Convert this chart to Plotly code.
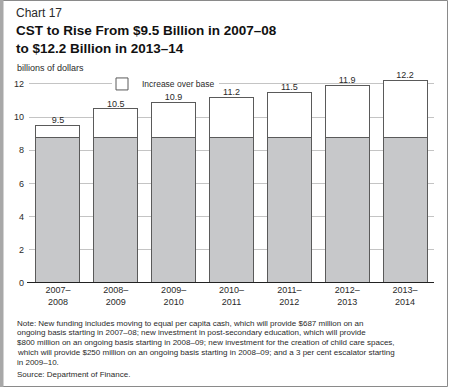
import plotly.graph_objects as go

# ---- data ----
categories = ["2007–<br>2008", "2008–<br>2009", "2009–<br>2010", "2010–<br>2011",
              "2011–<br>2012", "2012–<br>2013", "2013–<br>2014"]
totals = [9.5, 10.5, 10.9, 11.2, 11.5, 11.9, 12.2]
base_value = 8.8
base = [base_value] * len(totals)
increase = [round(t - base_value, 2) for t in totals]
total_labels = ["9.5", "10.5", "10.9", "11.2", "11.5", "11.9", "12.2"]
y_ticks = [0, 2, 4, 6, 8, 10, 12]
y_max = 12.6

W, H = 450, 388
ML, MR, MT, MB = 29, 16, 74, 105
PW, PH = W - ML - MR, H - MT - MB

def px(x):
    return (x - ML) / PW

def py(y):
    return (H - MB - y) / PH

FONT = "Liberation Sans, Arial, sans-serif"
TXT = "#2a2a2a"

fig = go.Figure()
fig.add_trace(go.Bar(
    x=categories, y=base, name="Base", showlegend=False,
    marker=dict(color="#c7c8ca", line=dict(color="#5a5a5a", width=1)),
    hoverinfo="skip",
))
fig.add_trace(go.Bar(
    x=categories, y=increase, name="Increase over base",
    marker=dict(color="#ffffff", line=dict(color="#5a5a5a", width=1)),
    hoverinfo="skip",
))
fig.add_trace(go.Scatter(
    x=categories, y=totals, mode="text", text=total_labels,
    textposition="top center", showlegend=False, cliponaxis=False,
    textfont=dict(family=FONT, size=9, color=TXT), hoverinfo="skip",
))

note_lines = [
    "Note: New funding includes moving to equal per capita cash, which will provide $687 million on an",
    "ongoing basis starting in 2007–08; new investment in post-secondary education, which will provide",
    "$800 million on an ongoing basis starting in 2008–09; new investment for the creation of child care spaces,",
    "which will provide $250 million on an ongoing basis starting in 2008–09; and a 3 per cent escalator starting",
    "in 2009–10.",
]

annotations = [
    dict(text="Chart 17", x=px(14), y=py(13), xanchor="left", yanchor="middle",
         font=dict(family=FONT, size=12, color=TXT)),
    dict(text="<b>CST to Rise From $9.5 Billion in 2007–08</b>", x=px(14), y=py(31),
         xanchor="left", yanchor="middle", font=dict(family=FONT, size=13.5, color="#111")),
    dict(text="<b>to $12.2 Billion in 2013–14</b>", x=px(14), y=py(48),
         xanchor="left", yanchor="middle", font=dict(family=FONT, size=13.5, color="#111")),
    dict(text="billions of dollars", x=px(15), y=py(68), xanchor="left", yanchor="middle",
         font=dict(family=FONT, size=9, color=TXT)),
]
for i, line in enumerate(note_lines):
    annotations.append(dict(text=line, x=px(15), y=py(323 + 9.8 * i), xanchor="left",
                            yanchor="middle", font=dict(family=FONT, size=8, color=TXT)))
annotations.append(dict(text="Source: Department of Finance.", x=px(15), y=py(374.5),
                        xanchor="left", yanchor="middle",
                        font=dict(family=FONT, size=8, color=TXT)))
for a in annotations:
    a.update(xref="paper", yref="paper", showarrow=False)

shapes = [
    # outer frame
    dict(type="rect", xref="paper", yref="paper", x0=px(0.5), x1=px(447.5), y0=py(0.5), y1=py(386.5),
         line=dict(color="#8a8a8a", width=1), fillcolor="rgba(0,0,0,0)", layer="below"),
    dict(type="rect", xref="paper", yref="paper", x0=px(0), x1=px(3.5), y0=py(0), y1=py(387),
         line=dict(width=0), fillcolor="#a8a8a8", layer="below"),
    # gap in the top gridline behind the legend
    dict(type="rect", xref="paper", yref="y", x0=px(112), x1=px(219), y0=11.8, y1=12.2,
         line=dict(width=0), fillcolor="white", layer="above"),
    # zero line
    dict(type="line", xref="paper", yref="y", x0=px(27), x1=px(434), y0=0, y1=0,
         line=dict(color="#222", width=2), layer="above"),
]

fig.update_layout(
    width=W, height=H, margin=dict(l=ML, r=MR, t=MT, b=MB),
    paper_bgcolor="white", plot_bgcolor="white",
    barmode="stack", bargap=0.24,
    font=dict(family=FONT, size=9, color=TXT),
    showlegend=True,
    legend=dict(x=px(102), y=12 / y_max, xanchor="left", yanchor="middle", orientation="h",
                bgcolor="rgba(0,0,0,0)", font=dict(family=FONT, size=8.5, color=TXT),
                itemwidth=30, tracegroupgap=0, borderwidth=0),
    annotations=annotations, shapes=shapes,
    xaxis=dict(showgrid=False, showline=False, ticks="", zeroline=False,
               tickfont=dict(family=FONT, size=9, color=TXT), fixedrange=True),
    yaxis=dict(range=[0, y_max], tickvals=y_ticks, showgrid=True, gridcolor="#c4c4c4",
               gridwidth=1, zeroline=False, showline=False, ticks="",
               tickfont=dict(family=FONT, size=9, color=TXT), ticklabelstandoff=4,
               fixedrange=True),
)

fig.write_html("out.html", config={"displayModeBar": False},
               post_script="document.body.style.margin='0';document.body.style.overflow='hidden';")
